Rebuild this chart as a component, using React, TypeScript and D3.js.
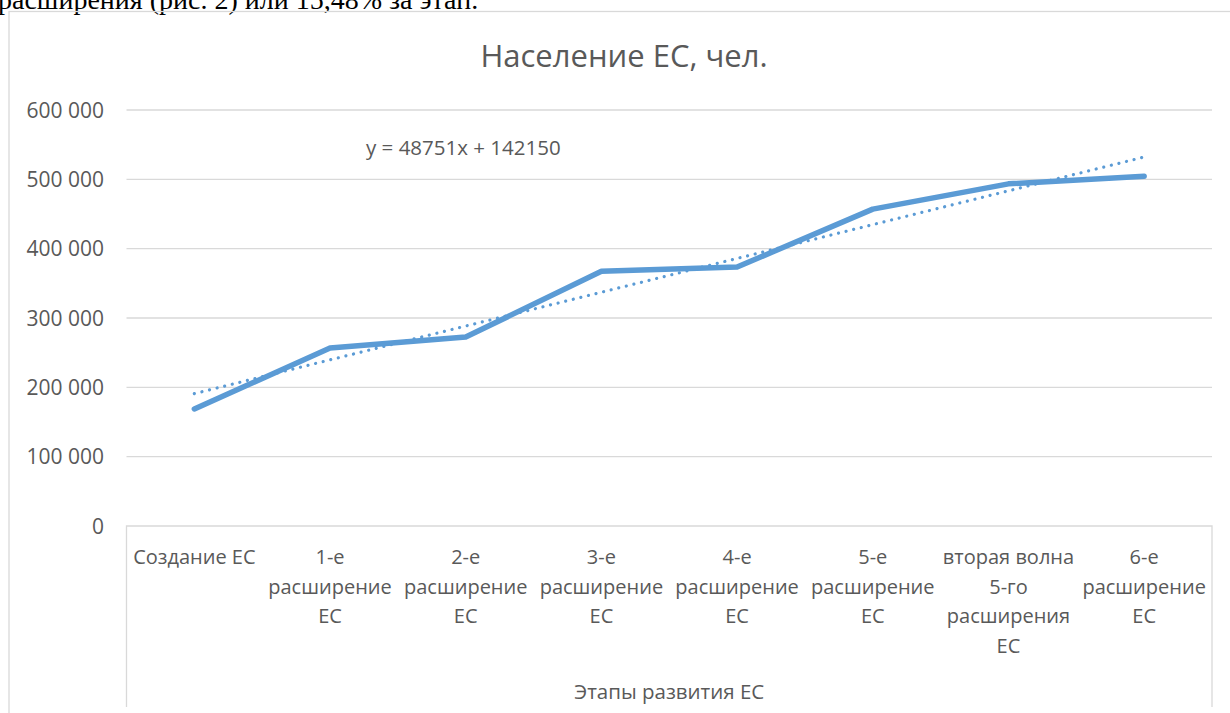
import React from "react"
import * as d3 from "d3"

// Этапы развития ЕС (категории, с переносами как на графике)
const stages: string[][] = [
  ["Создание ЕС"],
  ["1-е", "расширение", "ЕС"],
  ["2-е", "расширение", "ЕС"],
  ["3-е", "расширение", "ЕС"],
  ["4-е", "расширение", "ЕС"],
  ["5-е", "расширение", "ЕС"],
  ["вторая волна", "5-го", "расширения", "ЕС"],
  ["6-е", "расширение", "ЕС"],
]

// Население ЕС, тыс. чел. (оценено по графику)
const population = [168800, 256700, 272500, 367500, 373500, 457000, 493500, 504500]

const yTicks = [0, 100000, 200000, 300000, 400000, 500000, 600000]

// линия тренда из подписи
const trendSlope = 48751
const trendIntercept = 142150

const W = 1230
const H = 713
const plot = { left: 126.5, right: 1212, top: 110, bottom: 526 }
const font = "'Open Sans', sans-serif"
const grey = "#595959"
const blue = "#5b9bd5"
const gridColor = "#d9d9d9"

const App = () => {
  const keys = stages.map((s, i) => String(i))
  const x = d3.scalePoint().domain(keys).range([plot.left, plot.right]).padding(0.5)
  const y = d3.scaleLinear().domain([0, 600000]).range([plot.bottom, plot.top])
  const fmt = (v: number) => d3.format(",")(v).replace(/,/g, " ")

  const line = d3
    .line<number>()
    .x((d, i) => x(String(i)) as number)
    .y((d) => y(d))

  const trend = population.map((d, i) => trendSlope * (i + 1) + trendIntercept)

  return (
    <svg
      width={W}
      height={H}
      style={{ position: "absolute", left: 0, top: 0, background: "#fff" }}
    >
      <text
        x={-2}
        y={9}
        fontFamily="'Liberation Serif', 'Times New Roman', serif"
        fontSize={28}
        fill="#000"
      >
        расширения (рис. 2) или 15,48% за этап.
      </text>

      {/* рамка диаграммы */}
      <rect x={9} y={11.5} width={W + 10} height={H + 10} fill="none" stroke={gridColor} strokeWidth={1.3} />

      <text x={624} y={67} textAnchor="middle" fontFamily={font} fontSize={31} fill={grey}>
        Население ЕС, чел.
      </text>

      {yTicks.map((t) => (
        <g key={t}>
          {t > 0 && (
            <line x1={plot.left} x2={plot.right} y1={y(t)} y2={y(t)} stroke={gridColor} strokeWidth={1.3} />
          )}
          <text x={104} y={y(t) + 7.5} textAnchor="end" fontFamily={font} fontSize={21} fill={grey}>
            {fmt(t)}
          </text>
        </g>
      ))}

      {/* ось категорий */}
      <path
        d={`M${plot.left},707V${plot.bottom}H${plot.right}V707`}
        fill="none"
        stroke={gridColor}
        strokeWidth={1.3}
      />
      {stages.map((lines, i) => (
        <text key={i} textAnchor="middle" fontFamily={font} fontSize={20} fill={grey}>
          {lines.map((l, j) => (
            <tspan key={j} x={x(String(i))} y={564 + j * 29.5}>
              {l}
            </tspan>
          ))}
        </text>
      ))}
      <text x={(plot.left + plot.right) / 2} y={699} textAnchor="middle" fontFamily={font} fontSize={20.5} fill={grey}>
        Этапы развития ЕС
      </text>

      <path
        d={line(trend) || ""}
        fill="none"
        stroke={blue}
        strokeWidth={3.2}
        strokeLinecap="round"
        strokeDasharray="0.01 7.8"
      />
      <path
        d={line(population) || ""}
        fill="none"
        stroke={blue}
        strokeWidth={5.5}
        strokeLinecap="round"
        strokeLinejoin="round"
      />

      <text x={366} y={155} fontFamily={font} fontSize={20.5} fill={grey}>
        y = 48751x + 142150
      </text>
    </svg>
  )
}

export default App
